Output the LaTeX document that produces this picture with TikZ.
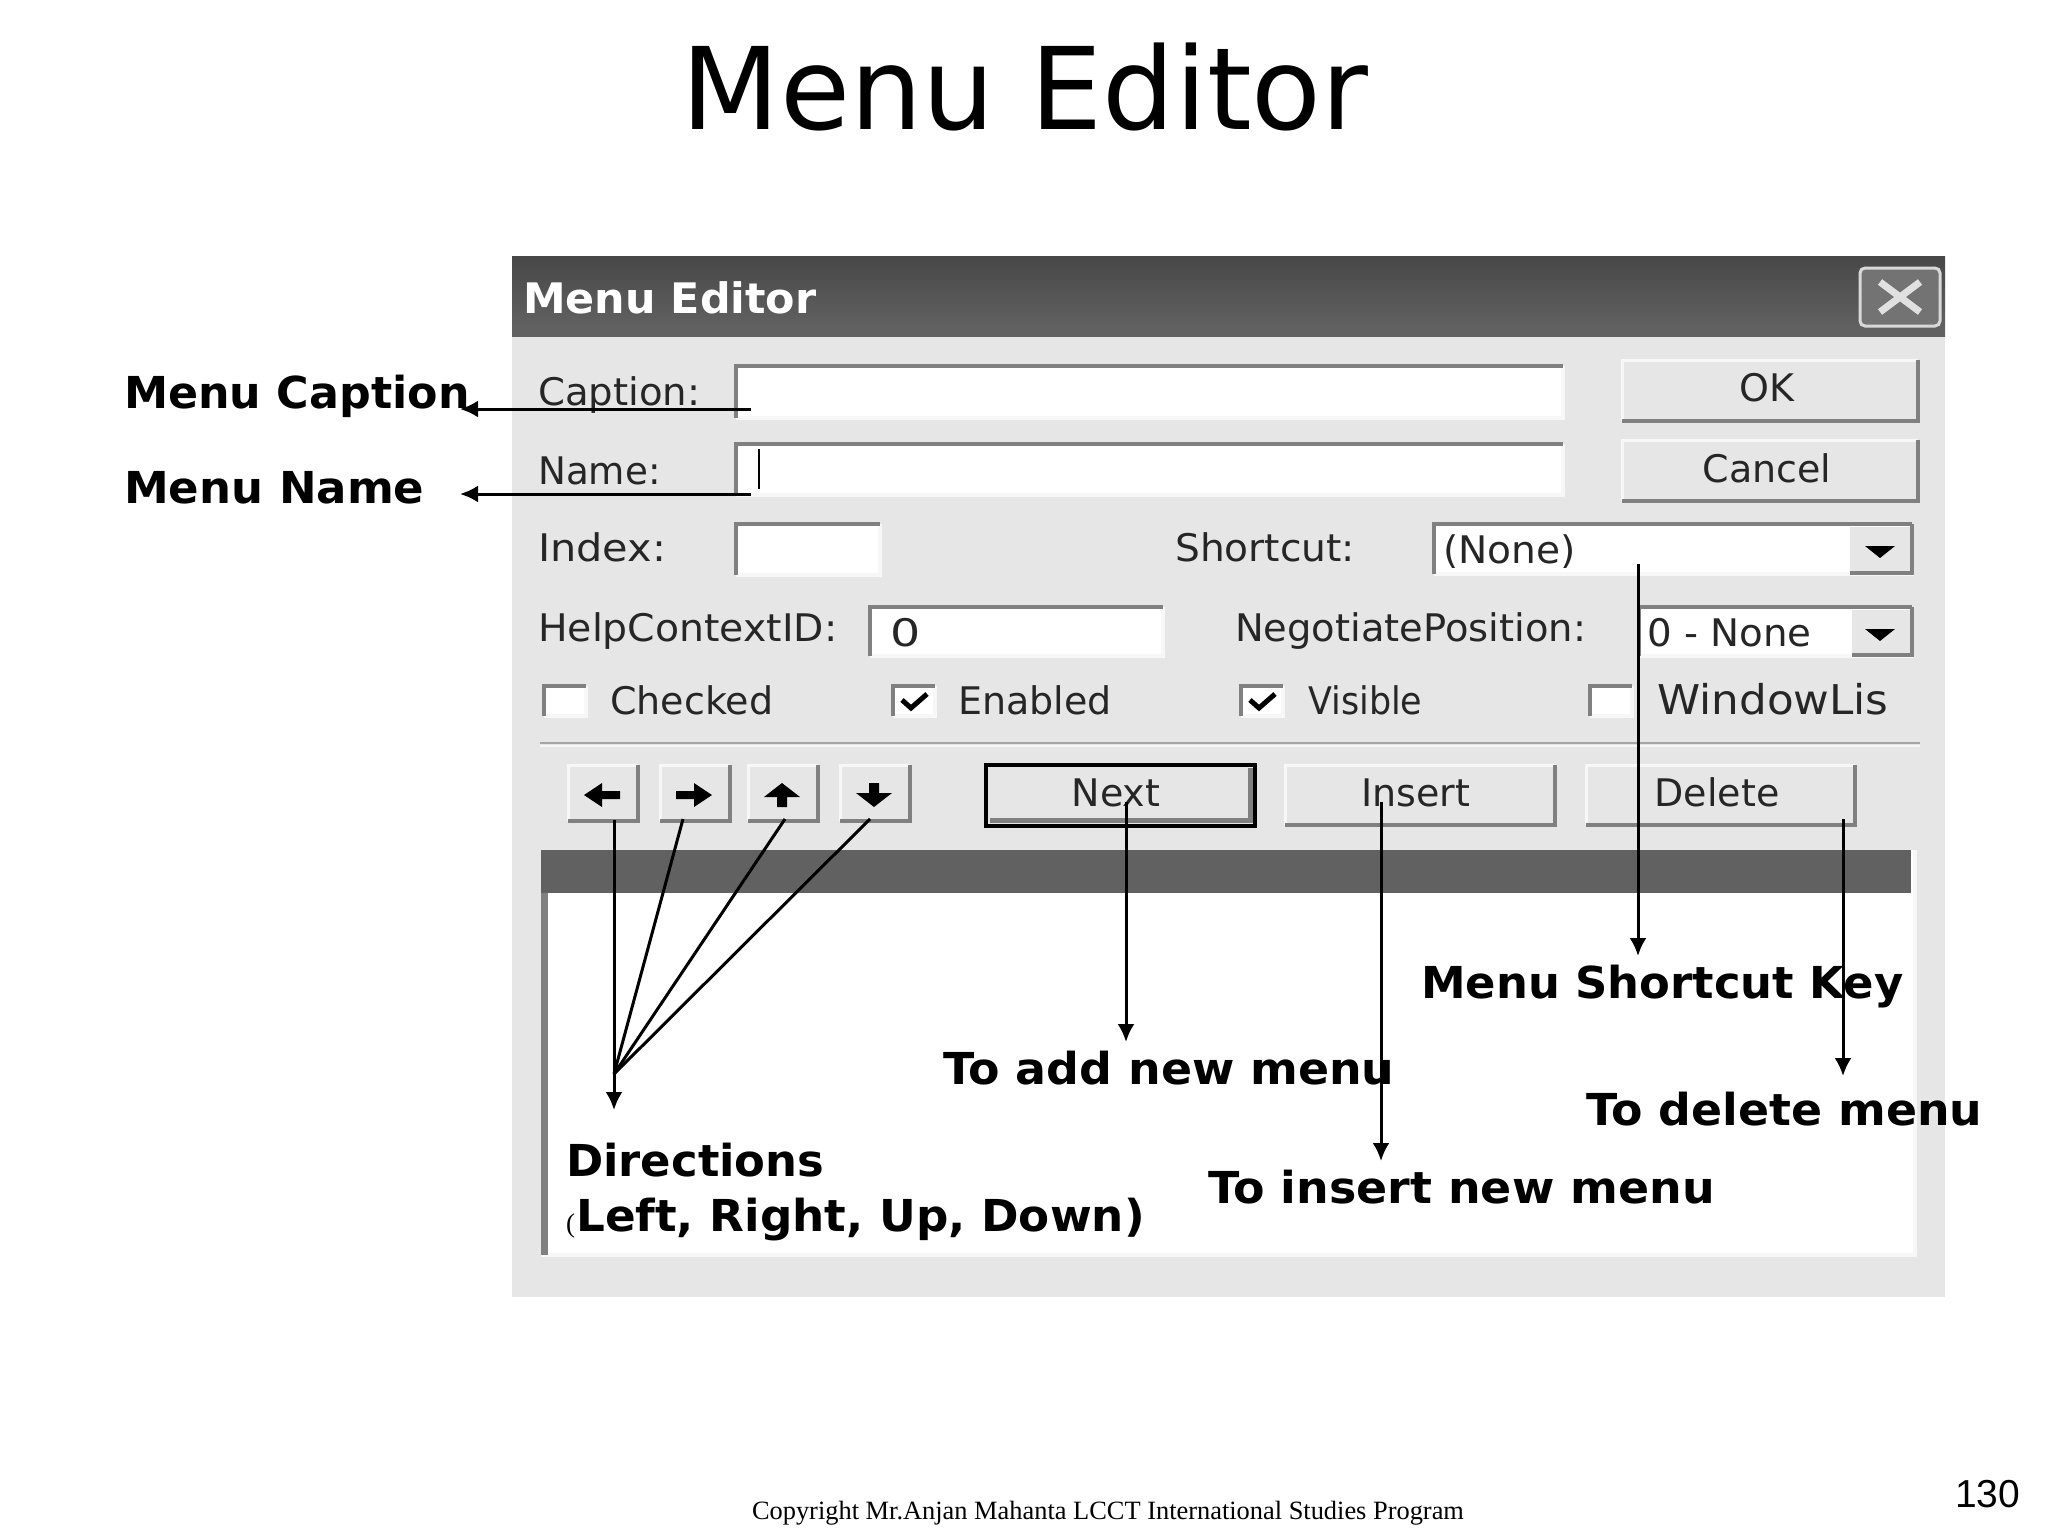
\documentclass[tikz,border=0pt]{standalone}
\usepackage{fontspec}
\usepackage{graphicx}
\setmainfont{DejaVu Sans}
\newfontfamily\arialf{Liberation Sans}
\newfontfamily\timesf{Liberation Serif}
\usetikzlibrary{arrows.meta}
\definecolor{panel}{HTML}{E6E6E6}
\definecolor{edge}{HTML}{808080}
\definecolor{hilite}{HTML}{F7F7F7}
\pgfdeclareverticalshading{titlebar}{100bp}{color(0bp)=(black!80);color(8bp)=(black!62);color(30bp)=(black!62);color(75bp)=(black!72);color(92bp)=(black!72);color(97bp)=(black!55);color(100bp)=(black!45)}
\newcommand{\hs}[2]{\scalebox{#1}[1]{#2}}
\tikzset{
  txt/.style={anchor=base west,inner sep=0pt,font=\fontsize{38}{44}\selectfont,text=black!85},
  ctxt/.style={anchor=base,inner sep=0pt,font=\fontsize{38}{44}\selectfont,text=black!85},
  callout/.style={anchor=base west,inner sep=0pt,font=\bfseries\fontsize{44}{50}\selectfont,text=black},
  conn/.style={line width=3pt,black},
  arr/.style={conn,-{Latex[length=18pt,width=17pt]}},
  glyph/.style={fill=black,draw=none},
  tick/.style={line width=5pt,black,line join=miter}
}
\newcommand{\sunkenbox}[4]{%
  \fill[white] (#1,#2) rectangle (#3,#4);
  \draw[hilite,line width=4pt] (#1,#4) -- (#3,#4) -- (#3,#2);
  \draw[edge,line width=4.5pt] (#1,#4) -- (#1,#2) -- (#3,#2);
}
\newcommand{\raisedbox}[4]{%
  \fill[panel] (#1,#2) rectangle (#3,#4);
  \draw[hilite,line width=3pt] (#1,#4) -- (#1,#2) -- (#3,#2);
  \draw[edge,line width=4pt] (#1,#4) -- (#3,#4) -- (#3,#2);
}
\begin{document}
\begin{tikzpicture}[x=1pt,y=-1pt]
\useasboundingbox (0,0) rectangle (2048,1536);
\fill[white] (0,0) rectangle (2048,1536);
% dialog
\fill[panel] (512,256) rectangle (1945,1297);
\shade[shading=titlebar] (512,256) rectangle (1945,336);
\node[anchor=base west,inner sep=0pt,font=\bfseries\fontsize{42}{48}\selectfont,text=white] (dlgtitle) at (523,313) {\hs{1.02}{Menu Editor}};
% close button
\draw[white!85!black,line width=3pt,fill=black!55,rounded corners=5pt] (1860,268) rectangle (1940,326);
\draw[white!88!black,line width=7pt] (1880,282) -- (1920,312);
\draw[white!88!black,line width=7pt] (1920,282) -- (1880,312);
% fields
\sunkenbox{736}{366}{1563}{418}
\sunkenbox{736}{444}{1563}{495}
\sunkenbox{736}{524}{880}{575}
\sunkenbox{870}{607}{1163}{656}
\sunkenbox{1434}{524}{1912}{574}
\sunkenbox{1639}{607}{1912}{656}
\fill[panel] (1850,527) rectangle (1910,572);
\draw[edge,line width=4pt] (1850,573) -- (1912,573) -- (1912,524);
\fill[panel] (1852,610) rectangle (1910,654);
\draw[edge,line width=4pt] (1852,655) -- (1912,655) -- (1912,607);
\fill[glyph] (1865,546) -- (1895,546) -- (1880,558) -- cycle;
\fill[glyph] (1865,629) -- (1895,629) -- (1880,641) -- cycle;
\draw[black,line width=2.5pt] (759,449) -- (759,489);
% buttons
\raisedbox{1622}{360}{1918}{421}
\raisedbox{1622}{440}{1918}{501}
\raisedbox{568}{765}{638}{821}
\raisedbox{660}{765}{730}{821}
\raisedbox{748}{765}{818}{821}
\raisedbox{840}{765}{910}{821}
\raisedbox{1285}{765}{1555}{825}
\raisedbox{1586}{765}{1855}{825}
\fill[panel] (986,765) rectangle (1255,826);
\draw[edge,line width=5pt] (990,820) -- (1250,820) -- (1250,768);
\draw[black,line width=3.5pt] (986,765) rectangle (1255,826);
\fill[glyph] (584,795) -- (602,783) -- (602,791) -- (620,791) -- (620,799) -- (602,799) -- (602,807) -- cycle;
\fill[glyph] (712,795) -- (694,783) -- (694,791) -- (676,791) -- (676,799) -- (694,799) -- (694,807) -- cycle;
\fill[glyph] (782,783) -- (800,797) -- (787,797) -- (787,807) -- (777,807) -- (777,797) -- (764,797) -- cycle;
\fill[glyph] (874,807) -- (892,793) -- (879,793) -- (879,783) -- (869,783) -- (869,793) -- (856,793) -- cycle;
% checkboxes
\sunkenbox{544}{686}{586}{716}
\sunkenbox{893}{686}{935}{716}
\sunkenbox{1241}{686}{1283}{716}
\sunkenbox{1590}{686}{1632}{716}
\draw[tick] (902,700) -- (911,708) -- (927,694);
\draw[tick] (1250,700) -- (1259,708) -- (1275,694);
% separator
\draw[black!35,line width=2.5pt] (540,743) -- (1920,743);
\draw[hilite,line width=2pt] (540,746) -- (1920,746);
% list box
\fill[white] (541,850) rectangle (1913,1255);
\draw[hilite,line width=4pt] (541,1255) -- (1915,1255) -- (1915,850);
\fill[black!62] (541,850) rectangle (1911,893);
\draw[edge,line width=7pt] (544,893) -- (544,1255);
% dialog texts
\node[txt] (lcaption) at (538,405) {\hs{1.016}{Caption:}};
\node[txt] (lname) at (538,484) {\hs{.98}{Name:}};
\node[txt] (lindex) at (538,561) {\hs{1.09}{Index:}};
\node[txt] (lhelp) at (538,641) {\hs{1.036}{HelpContextID:}};
\node[txt] (lshortcut) at (1175,561) {\hs{1.03}{Shortcut:}};
\node[txt] (lnego) at (1235,641) {\hs{1.011}{NegotiatePosition:}};
\node[txt] (vnone) at (1443,563) {\hs{1.03}{(None)}};
\node[txt] (vnego) at (1647,646) {\hs{1.02}{0 - None}};
\node[txt] (vhelp) at (890,646) {\hs{1.25}{0}};
\node[txt] (lchecked) at (610,714) {Checked};
\node[txt] (lenabled) at (958,714) {Enabled};
\node[txt] (lvisible) at (1308,714) {\hs{.92}{Visible}};
\node[txt,font=\fontsize{41}{46}\selectfont] (lwindow) at (1657,714) {\hs{1.065}{WindowLis}};
\node[ctxt] (bok) at (1767,401) {OK};
\node[ctxt] (bcancel) at (1767,482) {Cancel};
\node[ctxt] (bnext) at (1116,806) {Next};
\node[ctxt] (binsert) at (1416,806) {Insert};
\node[ctxt] (bdelete) at (1717,806) {Delete};
% slide texts
\node[anchor=base,inner sep=0pt,font=\fontsize{114}{130}\selectfont,text=black] (title) at (1025,130) {Menu Editor};
\node[callout] (mcaption) at (124,408) {\hs{1.008}{Menu Caption}};
\node[callout] (mname) at (124,503) {\hs{1.022}{Menu Name}};
\node[callout] (mshort) at (1421,998) {\hs{1.019}{Menu Shortcut Key}};
\node[callout] (madd) at (943,1084) {\hs{1.042}{To add new menu}};
\node[callout] (mins) at (1208,1203) {\hs{1.043}{To insert new menu}};
\node[callout] (mdel) at (1586,1125) {\hs{1.041}{To delete menu}};
\node[callout] (mdir) at (566,1176) {\hs{1.02}{Directions}};
\node[anchor=base west,inner sep=0pt,font=\timesf\fontsize{27}{30}\selectfont] (mparen) at (566,1232) {(};
\node[callout] (mdirs) at (576,1231) {\hs{1.028}{Left, Right, Up, Down)}};
\node[anchor=base,inner sep=0pt,font=\timesf\fontsize{26.4}{32}\selectfont] (copy) at (1108,1519) {Copyright Mr.Anjan Mahanta LCCT International Studies Program};
\node[anchor=base west,inner sep=0pt,font=\arialf\fontsize{39}{44}\selectfont] (pageno) at (1955,1507) {130};
% connector ends
\coordinate (cs) at (751,409); \coordinate (ce) at (460,409);
\coordinate (ns) at (751,494); \coordinate (ne) at (460,494);
\coordinate (ss) at (1638,564); \coordinate (se) at (1638,956);
\coordinate (ds) at (1843,819); \coordinate (de) at (1843,1076);
\coordinate (is) at (1381,802); \coordinate (ie) at (1381,1161);
\coordinate (as) at (1126,802); \coordinate (ae) at (1126,1042);
\coordinate (ls) at (614,820); \coordinate (le) at (614,1110);
\coordinate (rs) at (683,819); \coordinate (us) at (785,819); \coordinate (ws) at (870,819);
\coordinate (hub) at (614,1074);
\draw[arr] (cs) -- (ce);
\draw[arr] (ns) -- (ne);
\draw[arr] (ss) -- (se);
\draw[arr] (ds) -- (de);
\draw[arr] (is) -- (ie);
\draw[arr] (as) -- (ae);
\draw[arr] (ls) -- (le);
\draw[conn] (rs) -- (hub);
\draw[conn] (us) -- (hub);
\draw[conn] (ws) -- (hub);
\end{tikzpicture}
\end{document}
